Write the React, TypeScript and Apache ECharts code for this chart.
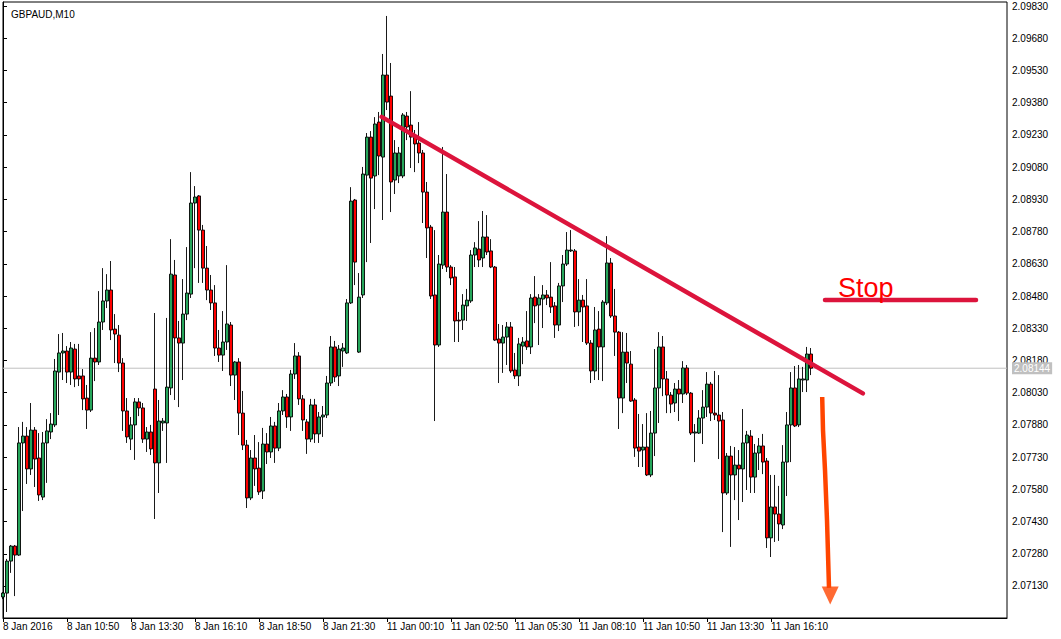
import React, { useEffect, useRef } from 'react';
import * as echarts from 'echarts';

const title = 'GBPAUD,M10';
const tickLabels = ['8 Jan 2016', '8 Jan 10:50', '8 Jan 13:30', '8 Jan 16:10', '8 Jan 18:50', '8 Jan 21:30', '11 Jan 00:10', '11 Jan 02:50', '11 Jan 05:30', '11 Jan 08:10', '11 Jan 10:50', '11 Jan 13:30', '11 Jan 16:10'];
const barsPerTick = 16;
const slots = 252;

const priceTicks = [2.0713, 2.0728, 2.0743, 2.0758, 2.0773, 2.0788, 2.0803, 2.0818, 2.0833, 2.0848, 2.0863, 2.0878, 2.0893, 2.0908, 2.0923, 2.0938, 2.0953, 2.0968, 2.0983];
const priceMin = 2.06981;
const priceMax = 2.09849;
const lastPrice = 2.08144;

const opens = [2.07079, 2.07097, 2.07246, 2.07316, 2.07274, 2.07796, 2.07828, 2.07675, 2.07856, 2.07726, 2.07544, 2.07796, 2.07847, 2.07880, 2.08126, 2.08215, 2.08224, 2.08126, 2.08233, 2.08108, 2.08108, 2.08005, 2.07949, 2.08191, 2.08173, 2.08359, 2.08457, 2.08508, 2.08326, 2.08298, 2.08168, 2.07945, 2.07814, 2.07880, 2.07987, 2.07959, 2.07814, 2.07847, 2.08047, 2.07703, 2.07889, 2.07889, 2.08052, 2.08578, 2.08285, 2.08261, 2.08396, 2.08489, 2.08913, 2.08946, 2.08787, 2.08610, 2.08508, 2.08448, 2.08238, 2.08205, 2.08266, 2.08345, 2.08112, 2.08173, 2.07935, 2.07786, 2.07540, 2.07726, 2.07679, 2.07572, 2.07791, 2.07754, 2.07875, 2.07772, 2.07945, 2.08010, 2.07917, 2.08117, 2.08201, 2.08001, 2.07894, 2.07814, 2.07973, 2.07838, 2.07917, 2.07926, 2.08075, 2.08243, 2.08108, 2.08224, 2.08215, 2.08448, 2.08927, 2.08219, 2.08485, 2.09043, 2.09220, 2.09039, 2.09290, 2.09127, 2.09509, 2.09411, 2.09020, 2.09039, 2.09039, 2.09318, 2.09276, 2.09220, 2.09192, 2.09146, 2.08964, 2.08801, 2.08485, 2.08252, 2.08624, 2.08871, 2.08615, 2.08569, 2.08368, 2.08368, 2.08434, 2.08457, 2.08671, 2.08699, 2.08657, 2.08755, 2.08690, 2.08615, 2.08280, 2.08261, 2.08289, 2.08336, 2.08136, 2.08108, 2.08247, 2.08271, 2.08243, 2.08475, 2.08438, 2.08466, 2.08485, 2.08475, 2.08434, 2.08345, 2.08527, 2.08629, 2.08690, 2.08690, 2.08406, 2.08461, 2.08434, 2.08261, 2.08131, 2.08326, 2.08243, 2.08448, 2.08634, 2.08387, 2.08312, 2.08005, 2.08219, 2.08163, 2.07996, 2.07777, 2.07763, 2.07777, 2.07647, 2.07842, 2.08052, 2.08243, 2.08094, 2.08019, 2.07982, 2.08047, 2.08024, 2.08145, 2.08028, 2.07842, 2.07842, 2.07912, 2.07963, 2.08070, 2.07935, 2.07926, 2.07903, 2.07563, 2.07735, 2.07647, 2.07693, 2.07675, 2.07796, 2.07828, 2.07637, 2.07749, 2.07782, 2.07712, 2.07354, 2.07498, 2.07465, 2.07414, 2.07707, 2.07880, 2.08052, 2.07880, 2.08089, 2.08089, 2.08210];

const closes = [2.07097, 2.07246, 2.07316, 2.07274, 2.07796, 2.07828, 2.07675, 2.07856, 2.07721, 2.07554, 2.07796, 2.07852, 2.07884, 2.08131, 2.08215, 2.08224, 2.08126, 2.08238, 2.08094, 2.08094, 2.08001, 2.07949, 2.08191, 2.08173, 2.08359, 2.08457, 2.08508, 2.08322, 2.08303, 2.08168, 2.07945, 2.07824, 2.07880, 2.07987, 2.07959, 2.07814, 2.07847, 2.07768, 2.07703, 2.07898, 2.07898, 2.08056, 2.08582, 2.08285, 2.08261, 2.08396, 2.08494, 2.08913, 2.08941, 2.08787, 2.08610, 2.08508, 2.08448, 2.08238, 2.08205, 2.08266, 2.08350, 2.08112, 2.08173, 2.07935, 2.07786, 2.07540, 2.07726, 2.07675, 2.07568, 2.07791, 2.07754, 2.07875, 2.07772, 2.07945, 2.08010, 2.07917, 2.08117, 2.08201, 2.08001, 2.07903, 2.07814, 2.07973, 2.07838, 2.07917, 2.07926, 2.08075, 2.08243, 2.08103, 2.08233, 2.08238, 2.08448, 2.08922, 2.08638, 2.08475, 2.09048, 2.09220, 2.09029, 2.09281, 2.09132, 2.09509, 2.09383, 2.09011, 2.09146, 2.09146, 2.09323, 2.09267, 2.09220, 2.09188, 2.09146, 2.08964, 2.08797, 2.08480, 2.08252, 2.08629, 2.08871, 2.08615, 2.08564, 2.08364, 2.08364, 2.08438, 2.08461, 2.08671, 2.08704, 2.08648, 2.08755, 2.08685, 2.08615, 2.08275, 2.08261, 2.08289, 2.08336, 2.08131, 2.08108, 2.08257, 2.08266, 2.08243, 2.08471, 2.08434, 2.08471, 2.08485, 2.08471, 2.08429, 2.08345, 2.08527, 2.08629, 2.08694, 2.08694, 2.08406, 2.08461, 2.08429, 2.08261, 2.08131, 2.08322, 2.08243, 2.08452, 2.08634, 2.08387, 2.08312, 2.08005, 2.08219, 2.08168, 2.07991, 2.07772, 2.07758, 2.07777, 2.07647, 2.07842, 2.08052, 2.08243, 2.08094, 2.08019, 2.07977, 2.08047, 2.08024, 2.08145, 2.08028, 2.07842, 2.07847, 2.07912, 2.07963, 2.08070, 2.07935, 2.07926, 2.07898, 2.07563, 2.07735, 2.07647, 2.07693, 2.07675, 2.07796, 2.07833, 2.07637, 2.07749, 2.07782, 2.07707, 2.07354, 2.07498, 2.07465, 2.07419, 2.07707, 2.07880, 2.08052, 2.07875, 2.08094, 2.08094, 2.08210, 2.08144];

const lows = [2.07069, 2.07009, 2.07191, 2.07083, 2.07270, 2.07479, 2.07605, 2.07647, 2.07591, 2.07526, 2.07530, 2.07610, 2.07814, 2.07870, 2.07926, 2.08089, 2.08075, 2.08066, 2.08056, 2.08061, 2.07949, 2.07861, 2.07940, 2.08084, 2.08159, 2.08322, 2.08424, 2.08275, 2.08168, 2.08126, 2.07852, 2.07796, 2.07763, 2.07717, 2.07921, 2.07796, 2.07754, 2.07740, 2.07442, 2.07563, 2.07852, 2.07703, 2.08019, 2.07996, 2.07963, 2.08089, 2.08368, 2.08471, 2.08610, 2.08541, 2.08541, 2.08461, 2.08415, 2.08201, 2.08173, 2.08131, 2.08229, 2.08061, 2.07996, 2.07833, 2.07763, 2.07493, 2.07530, 2.07596, 2.07554, 2.07535, 2.07698, 2.07726, 2.07703, 2.07758, 2.07926, 2.07866, 2.07852, 2.08094, 2.07973, 2.07852, 2.07745, 2.07800, 2.07796, 2.07796, 2.07824, 2.07912, 2.08061, 2.08080, 2.08061, 2.08150, 2.08210, 2.08443, 2.08531, 2.08215, 2.08471, 2.08638, 2.08727, 2.08885, 2.09043, 2.08834, 2.09346, 2.08871, 2.08955, 2.09006, 2.09029, 2.09206, 2.09076, 2.09057, 2.09099, 2.08820, 2.08657, 2.08466, 2.07898, 2.08243, 2.08606, 2.08592, 2.08531, 2.08266, 2.08266, 2.08322, 2.08364, 2.08448, 2.08615, 2.08615, 2.08615, 2.08671, 2.08610, 2.08271, 2.08075, 2.08122, 2.08159, 2.08122, 2.08094, 2.08061, 2.08163, 2.08229, 2.08210, 2.08354, 2.08252, 2.08331, 2.08438, 2.08401, 2.08285, 2.08317, 2.08452, 2.08620, 2.08685, 2.08336, 2.08340, 2.08266, 2.08252, 2.08075, 2.08089, 2.08089, 2.08084, 2.08438, 2.08378, 2.08201, 2.07861, 2.07935, 2.08075, 2.07987, 2.07731, 2.07684, 2.07684, 2.07642, 2.07637, 2.07735, 2.07889, 2.08014, 2.07935, 2.07935, 2.07940, 2.07898, 2.07982, 2.08019, 2.07833, 2.07707, 2.07838, 2.07791, 2.07917, 2.07898, 2.07903, 2.07721, 2.07381, 2.07554, 2.07312, 2.07530, 2.07437, 2.07521, 2.07577, 2.07563, 2.07563, 2.07670, 2.07651, 2.07307, 2.07265, 2.07335, 2.07340, 2.07395, 2.07549, 2.07707, 2.07870, 2.07870, 2.08033, 2.08033, 2.08112];

const highs = [2.07102, 2.07256, 2.07321, 2.07321, 2.07870, 2.07894, 2.07870, 2.07982, 2.07870, 2.07842, 2.07847, 2.07907, 2.07935, 2.08187, 2.08303, 2.08308, 2.08247, 2.08266, 2.08257, 2.08257, 2.08140, 2.08066, 2.08312, 2.08331, 2.08503, 2.08610, 2.08582, 2.08643, 2.08396, 2.08345, 2.08191, 2.08005, 2.07917, 2.08005, 2.08005, 2.07982, 2.07870, 2.07880, 2.08401, 2.07996, 2.07912, 2.08378, 2.08745, 2.08648, 2.08364, 2.08559, 2.08708, 2.09057, 2.08992, 2.08950, 2.08811, 2.08713, 2.08578, 2.08531, 2.08322, 2.08410, 2.08624, 2.08359, 2.08177, 2.08191, 2.08038, 2.07810, 2.07763, 2.07833, 2.07800, 2.07866, 2.07842, 2.07917, 2.07894, 2.07982, 2.08042, 2.08024, 2.08136, 2.08261, 2.08219, 2.08019, 2.07907, 2.08001, 2.08001, 2.07940, 2.07968, 2.08108, 2.08294, 2.08271, 2.08252, 2.08261, 2.08466, 2.08987, 2.08932, 2.08587, 2.09081, 2.09239, 2.09248, 2.09313, 2.09337, 2.09607, 2.09784, 2.09565, 2.09206, 2.09174, 2.09332, 2.09337, 2.09434, 2.09253, 2.09290, 2.09160, 2.09011, 2.08811, 2.08787, 2.08671, 2.09174, 2.09048, 2.08624, 2.08615, 2.08406, 2.08489, 2.08513, 2.08694, 2.08731, 2.08829, 2.08876, 2.08857, 2.08745, 2.08620, 2.08350, 2.08345, 2.08359, 2.08359, 2.08215, 2.08285, 2.08289, 2.08410, 2.08489, 2.08573, 2.08489, 2.08531, 2.08508, 2.08638, 2.08452, 2.08541, 2.08671, 2.08778, 2.08787, 2.08699, 2.08559, 2.08485, 2.08559, 2.08275, 2.08429, 2.08410, 2.08461, 2.08759, 2.08657, 2.08513, 2.08317, 2.08312, 2.08308, 2.08224, 2.08005, 2.07931, 2.07884, 2.07935, 2.07945, 2.08233, 2.08312, 2.08294, 2.08131, 2.08033, 2.08075, 2.08089, 2.08177, 2.08159, 2.08033, 2.07884, 2.07949, 2.08042, 2.08126, 2.08080, 2.08131, 2.08112, 2.07940, 2.07749, 2.07782, 2.07777, 2.07763, 2.07954, 2.07852, 2.07856, 2.07791, 2.07819, 2.07838, 2.07726, 2.07647, 2.07647, 2.07596, 2.07786, 2.07940, 2.08126, 2.08154, 2.08159, 2.08150, 2.08243, 2.08238];

// drawn objects, in [bar index, price]
const trendLine = [[94.66, 2.09314], [214.96, 2.08027]];
const stopLine = [[205.5, 2.08462], [243.25, 2.08462]];
const arrowShaft = [[204.8, 2.0801], [205.0, 2.07856], [205.5, 2.0767], [206.0, 2.07437], [206.5, 2.07121]];
const arrowHead = [[206.8, 2.07086]];
const stopText = 'Stop';

const FONT = 'Liberation Sans';

export default function App() {
  const ref = useRef<HTMLDivElement>(null);
  useEffect(() => {
    const chart = echarts.init(ref.current as HTMLDivElement, null, { renderer: 'svg' });
    const categories = Array.from({ length: slots }, (_, i) => String(i));
    const candles = opens.map((o, i) => [o, closes[i], lows[i], highs[i]]);
    const isTick = (i: number) => i % barsPerTick === 0 && i / barsPerTick < tickLabels.length;
    chart.setOption({
      animation: false,
      backgroundColor: '#ffffff',
      title: {
        text: title,
        left: 6,
        top: 4,
        textStyle: { fontSize: 10, fontWeight: 'normal', color: '#000', fontFamily: FONT },
      },
      grid: { left: 2, right: 54, top: 2, bottom: 21, show: true, borderColor: '#000', borderWidth: 1, backgroundColor: '#fff' },
      xAxis: [
        {
          type: 'category',
          data: categories,
          boundaryGap: false,
          axisLine: { show: true, lineStyle: { color: '#000', width: 1 } },
          axisTick: { show: true, interval: (i: number) => isTick(i), length: 4, lineStyle: { color: '#000' } },
          axisLabel: {
            interval: (i: number) => isTick(i),
            formatter: (_v: string, i: number) => tickLabels[i / barsPerTick] ?? '',
            align: 'left',
            margin: 3,
            fontSize: 10,
            fontFamily: FONT,
            color: '#000',
          },
          splitLine: { show: false },
        },
        { type: 'value', min: 0, max: slots - 1, show: false },
      ],
      yAxis: {
        type: 'value',
        position: 'right',
        min: priceMin,
        max: priceMax,
        scale: true,
        axisLine: { show: true, lineStyle: { color: '#000' } },
        axisTick: { show: true, customValues: priceTicks, length: 4, lineStyle: { color: '#000' } },
        axisLabel: {
          customValues: priceTicks,
          formatter: (v: number) => v.toFixed(5),
          margin: 5,
          fontSize: 10,
          fontFamily: FONT,
          color: '#000',
        },
        splitLine: { show: false },
      },
      graphic: [
        {
          type: 'text',
          x: 838,
          y: 287.6,
          style: { text: stopText, fill: '#ff0000', fontSize: 27, fontFamily: FONT, verticalAlign: 'middle' },
          z: 20,
        },
      ],
      series: [
        {
          type: 'line',
          xAxisIndex: 1,
          data: [[0, lastPrice], [slots - 1, lastPrice]],
          symbol: 'none',
          silent: true,
          lineStyle: { color: '#c0c0c0', width: 1 },
          endLabel: {
            show: true,
            formatter: () => lastPrice.toFixed(5),
            color: '#fff',
            backgroundColor: '#c0c0c0',
            fontSize: 10,
            fontFamily: FONT,
            padding: [1, 2, 1, 2],
            distance: 5,
          },
          z: 1,
        },
        {
          type: 'candlestick',
          data: candles,
          barWidth: 3.4,
          clip: true,
          itemStyle: { color: '#26a65b', color0: '#ff0000', borderColor: '#000', borderColor0: '#000', borderWidth: 0.9 },
          z: 2,
        },
        {
          type: 'line',
          xAxisIndex: 1,
          data: trendLine,
          symbol: 'none',
          silent: true,
          lineStyle: { color: '#dc143c', width: 4.5, cap: 'round' },
          z: 5,
        },
        {
          type: 'line',
          xAxisIndex: 1,
          data: stopLine,
          symbol: 'none',
          silent: true,
          lineStyle: { color: '#dc143c', width: 4.5, cap: 'round' },
          z: 5,
        },
        {
          type: 'line',
          xAxisIndex: 1,
          data: arrowShaft,
          symbol: 'none',
          silent: true,
          lineStyle: { color: '#ff4500', width: 4.5 },
          z: 5,
        },
        {
          type: 'scatter',
          xAxisIndex: 1,
          data: arrowHead,
          symbol: 'triangle',
          symbolSize: [17, 18],
          symbolRotate: 180,
          silent: true,
          itemStyle: { color: '#ff4500' },
          z: 5,
        },
      ],
    });
    return () => chart.dispose();
  }, []);
  return <div ref={ref} style={{ position: 'fixed', left: 0, top: 0, width: 1061, height: 639 }} />;
}
